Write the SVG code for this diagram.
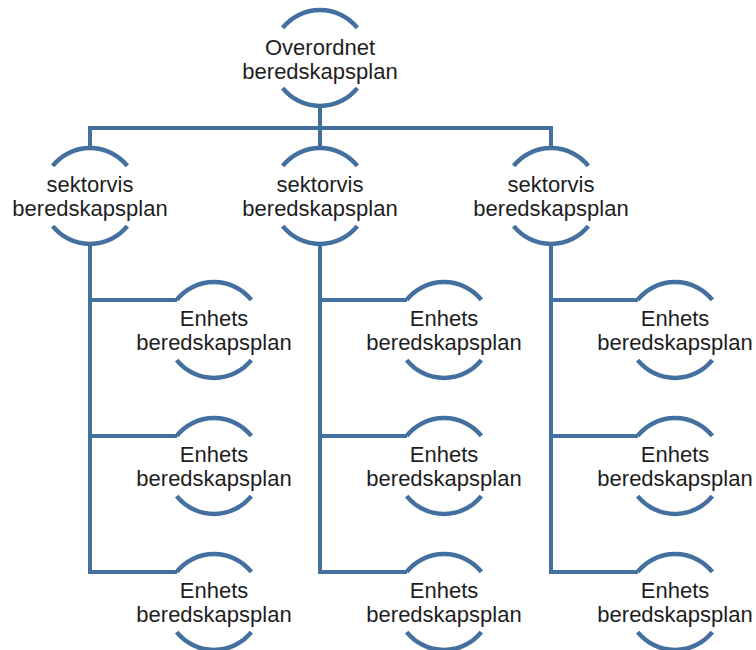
<svg xmlns="http://www.w3.org/2000/svg" xmlns:xlink="http://www.w3.org/1999/xlink" width="756" height="650" viewBox="0 0 756 650">
<style>
.ln{fill:none;stroke:#44709f;stroke-width:4;stroke-linejoin:miter}
.arc{fill:none;stroke:#44709f;stroke-width:4.5}
.t{font-family:"Liberation Sans",Arial,sans-serif;font-size:22px;fill:#1e1e1e;text-anchor:middle}
</style>
<defs>
<path id="arcs" d="M-37.3,-30.2 A48,48 0 0 1 37.3,-30.2 M-37.3,30.2 A48,48 0 0 0 37.3,30.2"/>
</defs>
<rect width="756" height="650" fill="#ffffff"/>
<g id="connectors" class="ln">
<path d="M320,106 V148"/>
<path d="M90,148 V128 H551 V148"/>
<path d="M90,244 V572 H177 M90,300 H177 M90,436 H177"/>
<path d="M320,244 V572 H407 M320,300 H407 M320,436 H407"/>
<path d="M551,244 V572 H638 M551,300 H638 M551,436 H638"/>
</g>
<g id="top" transform="translate(320,58)"><use xlink:href="#arcs" class="arc"/><text class="t" y="-3">Overordnet</text><text class="t" y="21">beredskapsplan</text></g>
<g id="sektor1" transform="translate(90,196)"><use xlink:href="#arcs" class="arc"/><text class="t" y="-4">sektorvis</text><text class="t" y="20">beredskapsplan</text></g>
<g id="sektor2" transform="translate(320,196)"><use xlink:href="#arcs" class="arc"/><text class="t" y="-4">sektorvis</text><text class="t" y="20">beredskapsplan</text></g>
<g id="sektor3" transform="translate(551,196)"><use xlink:href="#arcs" class="arc"/><text class="t" y="-4">sektorvis</text><text class="t" y="20">beredskapsplan</text></g>
<g id="enhet1a" transform="translate(214,330)"><use xlink:href="#arcs" class="arc"/><text class="t" y="-4">Enhets</text><text class="t" y="20">beredskapsplan</text></g>
<g id="enhet1b" transform="translate(214,466)"><use xlink:href="#arcs" class="arc"/><text class="t" y="-4">Enhets</text><text class="t" y="20">beredskapsplan</text></g>
<g id="enhet1c" transform="translate(214,602)"><use xlink:href="#arcs" class="arc"/><text class="t" y="-4">Enhets</text><text class="t" y="20">beredskapsplan</text></g>
<g id="enhet2a" transform="translate(444,330)"><use xlink:href="#arcs" class="arc"/><text class="t" y="-4">Enhets</text><text class="t" y="20">beredskapsplan</text></g>
<g id="enhet2b" transform="translate(444,466)"><use xlink:href="#arcs" class="arc"/><text class="t" y="-4">Enhets</text><text class="t" y="20">beredskapsplan</text></g>
<g id="enhet2c" transform="translate(444,602)"><use xlink:href="#arcs" class="arc"/><text class="t" y="-4">Enhets</text><text class="t" y="20">beredskapsplan</text></g>
<g id="enhet3a" transform="translate(675,330)"><use xlink:href="#arcs" class="arc"/><text class="t" y="-4">Enhets</text><text class="t" y="20">beredskapsplan</text></g>
<g id="enhet3b" transform="translate(675,466)"><use xlink:href="#arcs" class="arc"/><text class="t" y="-4">Enhets</text><text class="t" y="20">beredskapsplan</text></g>
<g id="enhet3c" transform="translate(675,602)"><use xlink:href="#arcs" class="arc"/><text class="t" y="-4">Enhets</text><text class="t" y="20">beredskapsplan</text></g>
</svg>
